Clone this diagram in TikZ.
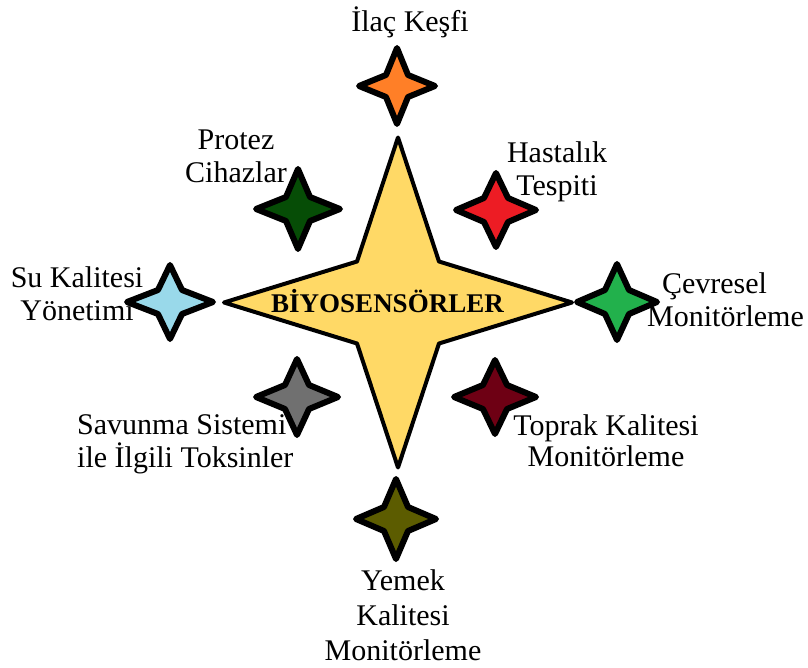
\documentclass[tikz,border=0pt]{standalone}
\usepackage{fontspec}
\setmainfont{Liberation Serif}
\definecolor{cYellow}{HTML}{FFD966}
\definecolor{cOrange}{HTML}{FF7F27}
\definecolor{cDkGreen}{HTML}{064D06}
\definecolor{cRed}{HTML}{ED1C24}
\definecolor{cLtBlue}{HTML}{99D9EA}
\definecolor{cGreen}{HTML}{22B14C}
\definecolor{cGray}{HTML}{707070}
\definecolor{cDkRed}{HTML}{6E0014}
\definecolor{cOlive}{HTML}{5C5C00}
\begin{document}
\begin{tikzpicture}[x=1pt,y=-1pt]
\tikzset{
  lbl/.style={font=\fontsize{30}{33}\selectfont, inner sep=0pt, align=center, text=black},
  smallstar/.style={draw=black, line width=6pt, line join=round},
  bigstar/.style={draw=black, line width=4pt, line join=round, fill=cYellow},
  pics/fourstar/.style n args={4}{code={
    \path[#4] (0,-#2) -- (#3,-#3) -- (#1,0) -- (#3,#3) -- (0,#2)
      -- (-#3,#3) -- (-#1,0) -- (-#3,-#3) -- cycle;}}
}
\fill[white] (0,0) rectangle (808,668);
\useasboundingbox (0,0) rectangle (808,668);

% central star
\pic at (398,302.5) {fourstar={174}{165}{41}{bigstar}};
\node[font=\fontsize{27}{30}\selectfont\bfseries, inner sep=0pt, anchor=base] (bio) at (387.5,312) {BİYOSENSÖRLER};

% small stars
\pic at (397,86)  {fourstar={38}{38}{11}{smallstar,fill=cOrange}};
\pic at (298,209) {fourstar={42}{40}{12}{smallstar,fill=cDkGreen}};
\pic at (496,210) {fourstar={40}{37}{12}{smallstar,fill=cRed}};
\pic at (170,302) {fourstar={43}{37}{12}{smallstar,fill=cLtBlue}};
\pic at (617,302) {fourstar={40}{38}{12}{smallstar,fill=cGreen}};
\pic at (297,397) {fourstar={41}{38}{12}{smallstar,fill=cGray}};
\pic at (495,397) {fourstar={41}{37}{12}{smallstar,fill=cDkRed}};
\pic at (396,519) {fourstar={40}{40}{12}{smallstar,fill=cOlive}};

% labels
\node[lbl, anchor=base] (ilac) at (410,32) {İlaç Keşfi};
\node[lbl, anchor=north] (protez) at (236,129.5) {Protez\\Cihazlar};
\node[lbl, anchor=north] (hast) at (557,141.5) {Hastalık\\Tespiti};
\node[lbl, anchor=north] (su) at (77,266.5) {Su Kalitesi\\Yönetimi};
\node[lbl, anchor=north] (cevre) at (725.5,272.5) {Çevresel\hspace*{22pt}\\Monitörleme};
\node[lbl, anchor=north west, align=left] (savunma) at (77,414.5) {Savunma Sistemi\\ile İlgili Toksinler};
\node[lbl, anchor=north, font=\fontsize{30}{31}\selectfont] (toprak) at (606,414.5) {Toprak Kalitesi\\Monitörleme};
\node[lbl, anchor=north, font=\fontsize{30}{35}\selectfont] (yemek) at (403,569.5) {Yemek\\Kalitesi\\Monitörleme};
\end{tikzpicture}
\end{document}
